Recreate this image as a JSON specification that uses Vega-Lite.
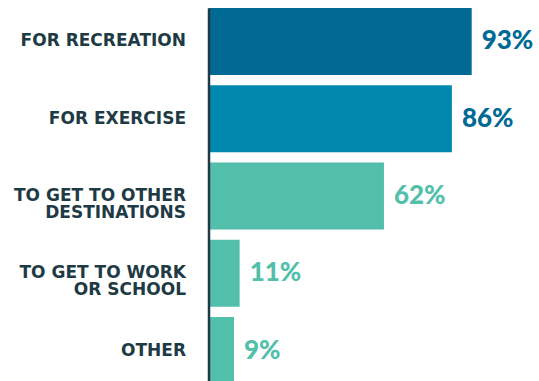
{
  "$schema": "https://vega.github.io/schema/vega-lite/v6.json",
  "autosize": {"type": "none"},
  "padding": {"left": 208.5, "top": 8, "right": 47.5, "bottom": 0},
  "width": 283,
  "height": 376,
  "background": "white",
  "config": {"view": {"stroke": null}},
  "data": {
    "values": [
      {"purpose": "FOR RECREATION", "share": 0.93, "group": "recreation", "tone": "blue"},
      {"purpose": "FOR EXERCISE", "share": 0.86, "group": "exercise", "tone": "blue"},
      {"purpose": "TO GET TO OTHER|DESTINATIONS", "share": 0.62, "group": "other", "tone": "teal"},
      {"purpose": "TO GET TO WORK|OR SCHOOL", "share": 0.11, "group": "other", "tone": "teal"},
      {"purpose": "OTHER", "share": 0.09, "group": "other", "tone": "teal"}
    ]
  },
  "encoding": {
    "y": {
      "field": "purpose",
      "type": "nominal",
      "sort": null,
      "scale": {"paddingInner": 0.133, "paddingOuter": 0},
      "axis": {
        "title": null,
        "ticks": false,
        "labelExpr": "split(datum.value, '|')",
        "labelFont": "DejaVu Sans",
        "labelFontWeight": "bold",
        "labelFontSize": 17,
        "labelColor": "#1e3a45",
        "labelLineHeight": 17,
        "labelPadding": 23,
        "labelLimit": 300,
        "domainColor": "#1e3a45",
        "domainWidth": 2.5,
        "zindex": 1
      }
    },
    "x": {
      "field": "share",
      "type": "quantitative",
      "scale": {"domain": [0, 1]},
      "axis": null
    }
  },
  "layer": [
    {
      "mark": {"type": "bar"},
      "encoding": {
        "color": {
          "field": "group",
          "type": "nominal",
          "scale": {"domain": ["recreation", "exercise", "other"], "range": ["#006a94", "#0088ae", "#52bfab"]},
          "legend": null
        }
      }
    },
    {
      "mark": {"type": "text", "align": "left", "dx": 10, "font": "Lato", "fontWeight": 900, "fontSize": 26, "baseline": "middle", "dy": 0},
      "encoding": {
        "text": {"field": "share", "type": "quantitative", "format": ".0%"},
        "color": {
          "field": "tone",
          "type": "nominal",
          "scale": {"domain": ["blue", "teal"], "range": ["#006a94", "#52bfab"]},
          "legend": null
        }
      }
    }
  ],
  "resolve": {"scale": {"color": "independent"}}
}
